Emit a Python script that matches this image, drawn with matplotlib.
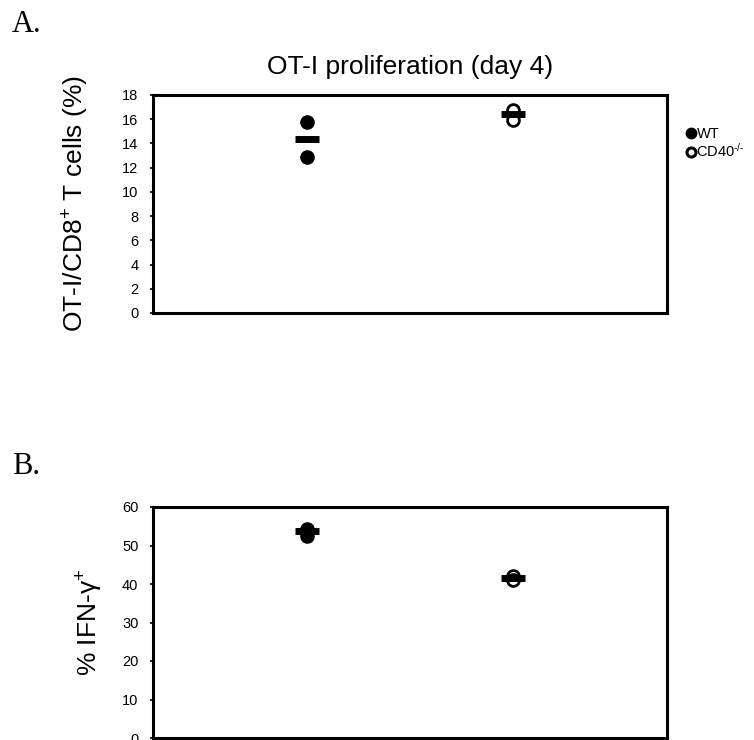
import numpy as np
import matplotlib.pyplot as plt
from matplotlib.lines import Line2D

plt.rcParams['font.family'] = ['Liberation Sans', 'DejaVu Sans']
plt.rcParams['mathtext.fontset'] = 'custom'
plt.rcParams['mathtext.rm'] = 'Liberation Sans'
plt.rcParams['mathtext.it'] = 'Liberation Sans:italic'

# panel A: OT-I proliferation (day 4)
groups = ['WT', r'CD40$^{\text{-/-}}$']
prolif_wt = [15.8, 12.9]
prolif_cd40 = [16.8, 15.9]
prolif_mean = [14.4, 16.4]

# panel B: IFN-gamma
ifn_wt = [54.4, 52.4]
ifn_cd40 = [42.0, 41.0]
ifn_mean = [53.8, 41.5]

xpos = [1, 2]

fig = plt.figure(figsize=(7.54, 7.40), dpi=100)
axA = fig.add_axes([153/754, 1-313/740, 514/754, 218/740])
axB = fig.add_axes([153/754, 1-738/740, 514/754, 231/740])


def style(ax):
    for s in ax.spines.values():
        s.set_linewidth(2.2)
    ax.set_xticks([])
    ax.tick_params(axis='y', direction='out', length=2.5, width=1.2, labelsize=10.5, pad=8)
    ax.set_xlim(0.25, 2.75)


def draw(ax, wt, cd40, means):
    ax.plot([xpos[0]] * len(wt), wt, 'o', ms=9.5, color='black', zorder=3)
    ax.plot([xpos[1]] * len(cd40), cd40, 'o', ms=8.5, mfc='white', mec='black', mew=2, zorder=3)
    ax.plot(xpos, means, '_', ms=17.5, mew=5, color='black', zorder=4, linestyle='none')


draw(axA, prolif_wt, prolif_cd40, prolif_mean)
style(axA)
axA.set_ylim(0, 18)
axA.set_yticks(np.arange(0, 19, 2))
axA.set_ylabel('OT-I/CD8$^{+}$ T cells (%)', fontsize=19, labelpad=22)
axA.set_title('OT-I proliferation (day 4)', fontsize=19, pad=15)

draw(axB, ifn_wt, ifn_cd40, ifn_mean)
style(axB)
axB.set_ylim(0, 60)
axB.set_yticks(np.arange(0, 61, 10))
axB.set_ylabel('% IFN-γ$^{+}$', fontsize=19, labelpad=12)

handles = [Line2D([], [], marker='o', ls='none', ms=7.5, color='black'),
           Line2D([], [], marker='o', ls='none', ms=6.5, mfc='white', mec='black', mew=2.2)]
fig.legend(handles, groups, loc='center left', bbox_to_anchor=(687/754, 1-143.5/740),
           frameon=False, fontsize=10.5, handlelength=0.6, handletextpad=0.05,
           labelspacing=0.1, borderpad=0, borderaxespad=0)

fig.text(12/754, 1-25/740, 'A.', fontsize=22, family='Liberation Serif', va='center')
fig.text(12/754, 1-467/740, 'B.', fontsize=22, family='Liberation Serif', va='center')

fig.savefig('out.png', dpi=100)
